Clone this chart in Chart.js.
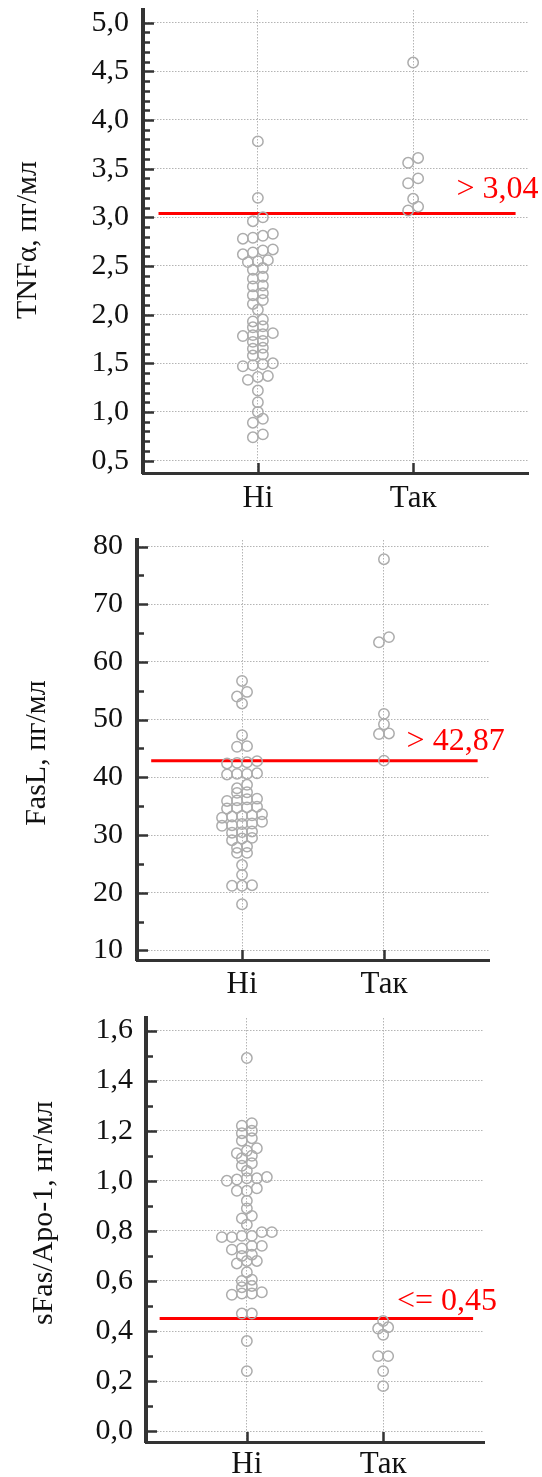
<!DOCTYPE html>
<html>
<head>
<meta charset="utf-8">
<script src="https://cdn.jsdelivr.net/npm/chart.js@4/dist/chart.umd.min.js"></script>
<style>
  body { margin: 0; background: #fff; width: 542px; height: 1477px; position: relative; overflow: hidden; }
  canvas { position: absolute; left: 0; }
</style>
</head>
<body>
<canvas id="c1" width="542" height="525" style="top:0px"></canvas>
<canvas id="c2" width="542" height="480" style="top:525px"></canvas>
<canvas id="c3" width="542" height="472" style="top:1005px"></canvas>
<script>
/* дані */
var groups = ['Hi', 'Так'];

var tnfNi = [3.78, 3.20, 3.00, 2.96, 2.83, 2.81, 2.79, 2.78, 2.67, 2.66, 2.64, 2.62,
  2.56, 2.55, 2.54, 2.48, 2.46, 2.39, 2.37, 2.30, 2.29, 2.22, 2.20, 2.15, 2.11, 2.05,
  1.95, 1.93, 1.88, 1.87, 1.81, 1.80, 1.79, 1.78, 1.73, 1.72, 1.66, 1.65, 1.59, 1.58,
  1.50, 1.49, 1.48, 1.47, 1.37, 1.36, 1.33, 1.22, 1.10, 1.00, 0.93, 0.89, 0.77, 0.74];
var tnfTak = [4.59, 3.61, 3.56, 3.40, 3.35, 3.19, 3.11, 3.07];

var faslNi = [56.7, 54.8, 54.0, 52.8, 47.3, 45.4, 45.3, 42.8, 42.6, 42.5, 42.4,
  40.7, 40.6, 40.6, 40.5, 38.7, 38.1, 37.4, 37.3, 36.3, 36.2, 36.0, 35.9,
  34.9, 34.8, 34.7, 34.6, 33.6, 33.4, 33.3, 33.2, 33.0, 32.3, 32.0, 31.9, 31.7, 31.6,
  30.6, 30.5, 30.4, 29.5, 29.4, 29.1, 28.0, 27.8, 26.9, 26.9, 24.8, 23.1,
  21.3, 21.2, 21.2, 18.0];
var faslTak = [77.8, 64.3, 63.4, 51.0, 49.2, 47.6, 47.5, 42.9];

var sfasNi = [1.49, 1.23, 1.22, 1.20, 1.19, 1.17, 1.16, 1.13, 1.12, 1.11, 1.10, 1.09,
  1.07, 1.06, 1.04, 1.015, 1.01, 1.01, 1.005, 1.00, 0.97, 0.96, 0.96, 0.92, 0.89,
  0.86, 0.85, 0.825, 0.795, 0.795, 0.78, 0.78, 0.775, 0.775, 0.74, 0.74, 0.73, 0.725,
  0.705, 0.70, 0.68, 0.68, 0.67, 0.635, 0.605, 0.60, 0.58, 0.575,
  0.555, 0.55, 0.55, 0.545, 0.47, 0.47, 0.36, 0.24];
var sfasTak = [0.44, 0.415, 0.41, 0.385, 0.30, 0.30, 0.24, 0.18];

var cutoffs = [3.04, 42.87, 0.45];
var cutoffLabels = ['> 3,04', '> 42,87', '<= 0,45'];

var tnfTicks = [0.5, 1.0, 1.5, 2.0, 2.5, 3.0, 3.5, 4.0, 4.5, 5.0];
var faslTicks = [10, 20, 30, 40, 50, 60, 70, 80];
var sfasTicks = [0.0, 0.2, 0.4, 0.6, 0.8, 1.0, 1.2, 1.4, 1.6];

var yTitles = ['TNFα, пг/мл', 'FasL, пг/мл', 'sFas/Apo-1, нг/мл'];

var SERIF = '"Liberation Serif", "Times New Roman", serif';

/* засічки всередину, назва осі, підпис порогу */
var innerTicks = {
  id: 'innerTicks',
  afterDraw: function(chart, args, opts) {
    var ctx = chart.ctx, a = chart.chartArea, x = chart.scales.x, y = chart.scales.y;
    ctx.save();
    ctx.strokeStyle = '#333';
    ctx.lineWidth = 2.5;
    ctx.beginPath();
    var majors = y.ticks.map(function(t) { return t.value; });
    var lo = Math.min.apply(null, majors), hi = Math.max.apply(null, majors);
    var n = Math.round((hi - lo) / opts.minor);
    for (var k = 0; k <= n; k++) {
      var v = lo + k * opts.minor;
      var isMajor = majors.some(function(m) { return Math.abs(m - v) < opts.minor / 10; });
      var p = Math.round(y.getPixelForValue(v)) + 0.5;
      ctx.moveTo(a.left, p);
      ctx.lineTo(a.left + (isMajor ? 11 : 7), p);
    }
    x.ticks.forEach(function(t) {
      var px = Math.round(x.getPixelForValue(t.value)) + 0.5;
      ctx.moveTo(px, a.bottom);
      ctx.lineTo(px, a.bottom - 10);
    });
    ctx.stroke();

    // назва осі Y
    ctx.save();
    ctx.translate(opts.tx, opts.ty);
    ctx.rotate(-Math.PI / 2);
    ctx.fillStyle = '#111';
    ctx.font = '30px ' + SERIF;
    ctx.textAlign = 'center';
    ctx.textBaseline = 'middle';
    ctx.fillText(opts.title, 0, 0);
    ctx.restore();

    ctx.fillStyle = '#ff0000';
    ctx.font = '32px ' + SERIF;
    ctx.textAlign = 'right';
    ctx.textBaseline = 'alphabetic';
    ctx.fillText(opts.label, x.getPixelForValue(opts.lineEnd) + opts.dx, y.getPixelForValue(opts.cut) + opts.dy);
    ctx.restore();
  }
};

/* розкладка точок рядами */
function swarm(chart, lists, rowPx, gapPx) {
  var xs = chart.scales.x, ys = chart.scales.y;
  var unit = xs.getPixelForValue(2) - xs.getPixelForValue(1);
  lists.forEach(function(vals, gi) {
    var sorted = vals.slice().sort(function(a, b) { return b - a; });
    var pts = [], row = [];
    function flush() {
      row.sort(function(a, b) { return a - b; });
      row.forEach(function(v, i) {
        pts.push({ x: gi + 1 + (i - (row.length - 1) / 2) * gapPx / unit, y: v });
      });
      row = [];
    }
    sorted.forEach(function(v) {
      if (row.length && ys.getPixelForValue(v) - ys.getPixelForValue(row[0]) >= rowPx) flush();
      row.push(v);
    });
    flush();
    chart.data.datasets[gi].data = pts;
  });
  chart.update('none');
}

function makePanel(id, p) {
  var pointStyle = {
    type: 'scatter', pointRadius: 5.2, pointBorderWidth: 1.5,
    pointBorderColor: '#acacac', pointBackgroundColor: 'rgba(255,255,255,0)'
  };
  var ds = p.lists.map(function(vals, gi) {
    return Object.assign({}, pointStyle, {
      data: vals.map(function(v) { return { x: gi + 1, y: v }; })
    });
  });
  ds.push({
    type: 'line', data: [{ x: 0.36, y: p.cut }, { x: 2.66, y: p.cut }],
    borderColor: '#ff0000', borderWidth: 3, pointRadius: 0
  });

  var chart = new Chart(document.getElementById(id).getContext('2d'), {
    type: 'scatter',
    data: { datasets: ds },
    plugins: [innerTicks],
    options: {
      responsive: false,
      animation: false,
      events: [],
      layout: { padding: { top: p.top, right: p.right, left: 0, bottom: 0 } },
      plugins: {
        legend: { display: false },
        tooltip: { enabled: false },
        innerTicks: {
          minor: p.minor, label: p.label, cut: p.cut, lineEnd: 2.66, dx: p.dx, dy: p.dy,
          title: p.title, tx: p.tx, ty: p.ty
        }
      },
      scales: {
        x: {
          type: 'linear', min: 0.26, max: 2.74,
          afterBuildTicks: function(s) { s.ticks = groups.map(function(g, i) { return { value: i + 1 }; }); },
          afterFit: function(s) { s.height = p.xh; s.paddingLeft = 0; s.paddingRight = 0; },
          ticks: {
            autoSkip: false, maxRotation: 0, padding: p.xpad, color: '#111',
            font: { family: SERIF, size: 31 },
            callback: function(v, i) { return groups[i]; }
          },
          grid: { drawTicks: false, color: '#b4b4b4', lineWidth: 1 },
          border: { color: '#333', width: 3, dash: [1.5, 1.5] }
        },
        y: {
          type: 'linear', min: p.min, max: p.max,
          afterBuildTicks: function(s) { s.ticks = p.ticks.map(function(v) { return { value: v }; }); },
          afterFit: function(s) { s.width = p.yw; s.paddingTop = 0; s.paddingBottom = 0; },
          ticks: {
            padding: p.ypad, color: '#111',
            font: { family: SERIF, size: 30 },
            callback: p.fmt
          },
          grid: { drawTicks: false, color: '#b4b4b4', lineWidth: 1 },
          border: { color: '#333', width: 4, dash: [1.5, 1.5] }
        }
      }
    }
  });
  swarm(chart, p.lists, p.rowPx, 10);
  return chart;
}

var comma1 = function(v) { return v.toFixed(1).replace('.', ','); };

window.onload = function() {
  makePanel('c1', {
    lists: [tnfNi, tnfTak], cut: cutoffs[0], label: cutoffLabels[0], title: yTitles[0],
    ticks: tnfTicks, fmt: comma1, min: 0.373, max: 5.13, minor: 0.1,
    top: 10, right: 14, yw: 143, xh: 52, xpad: 7, ypad: 14,
    tx: 28, ty: 240, dx: 23, dy: -15, rowPx: 5.5
  });
  makePanel('c2', {
    lists: [faslNi, faslTak], cut: cutoffs[1], label: cutoffLabels[1], title: yTitles[1],
    ticks: faslTicks, fmt: function(v) { return String(v); }, min: 8.34, max: 81.13, minor: 5,
    top: 15, right: 53, yw: 137, xh: 45, xpad: 6, ypad: 14,
    tx: 37, ty: 228, dx: 27, dy: -11, rowPx: 5.5
  });
  makePanel('c3', {
    lists: [sfasNi, sfasTak], cut: cutoffs[2], label: cutoffLabels[2], title: yTitles[2],
    ticks: sfasTicks, fmt: comma1, min: -0.043, max: 1.65, minor: 0.1,
    top: 13, right: 58, yw: 146, xh: 35, xpad: 4, ypad: 13,
    tx: 44, ty: 208, dx: 24, dy: -9, rowPx: 5.5
  });
};
</script>
</body>
</html>
